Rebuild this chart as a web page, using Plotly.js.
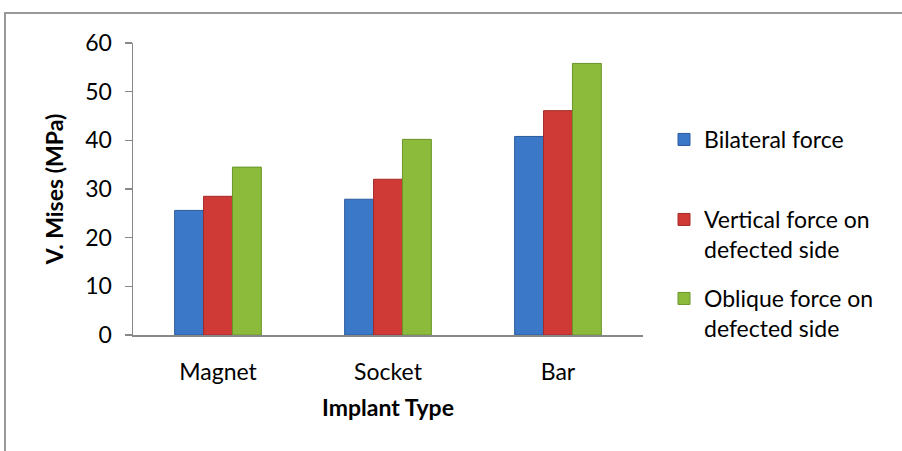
<!DOCTYPE html>
<html>
<head>
<meta charset="utf-8">
<script src="https://cdn.plot.ly/plotly-3.0.1.min.js"></script>
<style>html,body{margin:0;padding:0;background:#fff;}#chart{width:902px;height:451px;}</style>
</head>
<body>
<div id="chart"></div>
<script>
const categories = ["Magnet", "Socket", "Bar"];
const seriesNames = ["Bilateral force", "Vertical force on<br>defected side", "Oblique force on<br>defected side"];
const bilateral = [25.6, 27.9, 40.8];
const vertical = [28.5, 32.0, 46.1];
const oblique = [34.5, 40.2, 55.8];
const yTicks = [0, 10, 20, 30, 40, 50, 60];

const colors = ["#3c78c8", "#d03a36", "#8cbb3c"];
const lineColors = ["#2a5a9c", "#a02a28", "#6a9428"];
const values = [bilateral, vertical, oblique];
const legendIds = ["legend", "legend2", "legend3"];
const legendTopPx = [118, 198, 277];
const FONT = "Lato, 'Open Sans', sans-serif";
const FS = 23;

const traces = values.map((v, i) => ({
  type: "bar",
  name: seriesNames[i],
  x: categories,
  y: v,
  legend: legendIds[i],
  marker: {color: colors[i], line: {color: lineColors[i], width: 1}},
  hoverinfo: "x+y"
}));

function legendAt(px) {
  return {
    x: (664 - 133) / 510, y: (335 - px) / 292, xanchor: "left", yanchor: "top",
    valign: "top", bgcolor: "rgba(0,0,0,0)",
    font: {family: FONT, size: FS, color: "#000"},
    itemwidth: 30
  };
}

const layout = {
  width: 902, height: 451,
  margin: {l: 133, r: 259, t: 43, b: 116},
  paper_bgcolor: "#fff", plot_bgcolor: "#fff",
  font: {family: FONT, size: FS, color: "#000"},
  barmode: "group",
  bargap: 0.49, bargroupgap: 0,
  showlegend: true,
  legend: legendAt(legendTopPx[0]),
  legend2: legendAt(legendTopPx[1]),
  legend3: legendAt(legendTopPx[2]),
  xaxis: {
    type: "category",
    showline: true, linecolor: "#888", linewidth: 2,
    ticks: "", showgrid: false, zeroline: false,
    ticklabelstandoff: 15,
    tickfont: {family: FONT, size: FS},
    title: {text: "<b>Implant Type</b>", font: {family: FONT, size: FS}, standoff: 16}
  },
  yaxis: {
    range: [0, 60], tickvals: yTicks, ticktext: yTicks.map(String),
    showline: true, linecolor: "#888", linewidth: 1.5,
    ticks: "outside", ticklen: 7, tickcolor: "#888", tickwidth: 1.5,
    showgrid: false, zeroline: false,
    ticklabelstandoff: 8,
    tickfont: {family: FONT, size: FS},
    title: {text: "<b>V. Mises (MPa)</b>", font: {family: FONT, size: FS}, standoff: 15}
  },
  shapes: [{
    type: "rect", xref: "paper", yref: "paper",
    x0: (5 - 133) / 510, x1: (905 - 133) / 510,
    y0: -(460 - 335) / 292, y1: (335 - 13) / 292,
    line: {color: "#999", width: 2}, fillcolor: "rgba(0,0,0,0)", layer: "below"
  }]
};

Plotly.newPlot("chart", traces, layout, {displayModeBar: false, staticPlot: true});
</script>
</body>
</html>
